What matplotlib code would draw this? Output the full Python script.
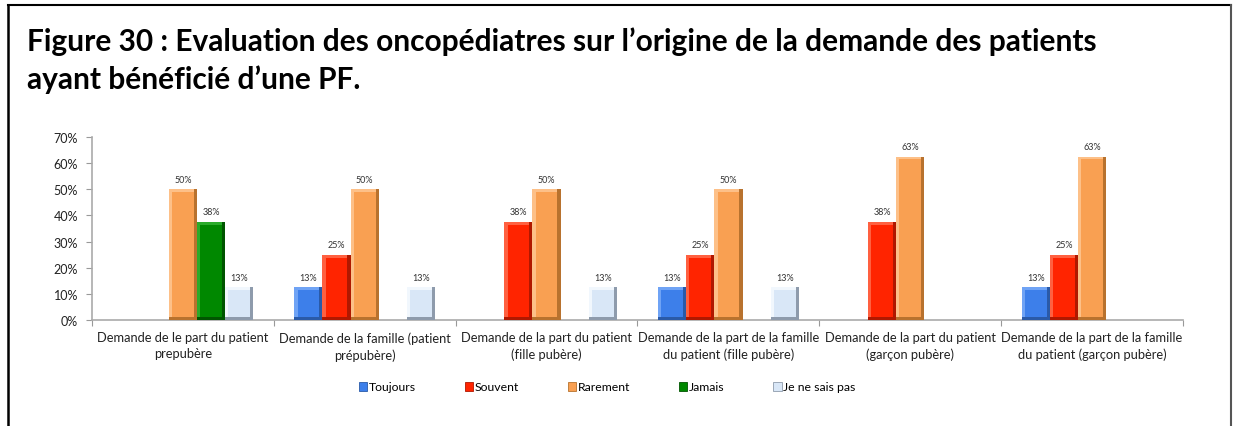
import matplotlib.pyplot as plt
from matplotlib.patches import Patch
from matplotlib.lines import Line2D
import numpy as np

categories = ["Demande de le part du patient\nprepubère",
              "Demande de la famille (patient\nprépubère)",
              "Demande de la part du patient\n(fille pubère)",
              "Demande de la part de la famille\ndu patient (fille pubère)",
              "Demande de la part du patient\n(garçon pubère)",
              "Demande de la part de la famille\ndu patient (garçon pubère)"]
series_names = ["Toujours", "Souvent", "Rarement", "Jamais", "Je ne sais pas"]
toujours = [0, 12.5, 0, 12.5, 0, 12.5]
souvent = [0, 25, 37.5, 25, 37.5, 25]
rarement = [50, 50, 50, 50, 62.5, 62.5]
jamais = [37.5, 0, 0, 0, 0, 0]
je_ne_sais_pas = [12.5, 12.5, 12.5, 12.5, 0, 0]
yticks = [0, 10, 20, 30, 40, 50, 60, 70]

# (main, light, dark) for the bevelled look
colors = [("#3d7fea", "#6fa3f5", "#2a5aa8"),
          ("#ff2400", "#ff6040", "#b01800"),
          ("#f9a052", "#fdc088", "#b8722e"),
          ("#008800", "#2aab2a", "#005500"),
          ("#d9e7f7", "#f1f7fd", "#8e9bac")]

fig = plt.figure(figsize=(12.33, 4.27), dpi=100)
plt.rcParams['font.family'] = ['Lato', 'DejaVu Sans']

ax = fig.add_axes([92/1233, 1-321/427, (1183-92)/1233, (321-138)/427])

x = np.arange(len(categories))
w = 0.155
bx = 0.018
by = 1.1
data = [toujours, souvent, rarement, jamais, je_ne_sais_pas]
for i, vals in enumerate(data):
    main, light, dark = colors[i]
    xs = x + (i - 2) * w
    v = np.array(vals, dtype=float)
    m = v > 0
    xs, v = xs[m], v[m]
    ax.bar(xs, v, w, color=dark, zorder=2)
    ax.bar(xs - bx/2, v, w - bx, color=light, zorder=3)
    ax.bar(xs, [by]*len(v), w, color=dark, zorder=3)
    ax.bar(xs, v - 2*by, w - 2*bx, bottom=by, color=main, zorder=4)
    for xx, vv in zip(xs, v):
        ax.text(xx, vv + 2.2, "%d%%" % int(vv + 0.5), ha='center', va='bottom',
                fontsize=6.5, color='#333333')

ax.set_xlim(-0.5, len(categories) - 0.5)
ax.set_ylim(0, 70)
ax.set_yticks(yticks)
ax.set_yticklabels(["%d%%" % t for t in yticks], fontsize=9, color='#222222')
ax.set_xticks(np.arange(len(categories) + 1) - 0.5, minor=False)
ax.set_xticklabels([])
ax.tick_params(axis='x', length=4, color='#999999', direction='out')
ax.tick_params(axis='y', length=4, color='#999999', direction='out', pad=6)
for xx, lab in zip(x, categories):
    ax.text(xx, -4.3, lab, ha='center', va='top', fontsize=9.3, color='#222222',
            linespacing=1.4)
for s in ['top', 'right']:
    ax.spines[s].set_visible(False)
for s in ['left', 'bottom']:
    ax.spines[s].set_color('#aaaaaa')
    ax.spines[s].set_linewidth(1.2)

handles = [Patch(facecolor=c[0], edgecolor=c[2], linewidth=0.6) for c in colors]
fig.legend(handles, series_names, loc='center', bbox_to_anchor=(607/1233, 1-388/427),
           ncol=5, frameon=False, fontsize=8.8, handlelength=0.7, handleheight=0.7,
           handletextpad=0.1, columnspacing=4.0)

fig.text(27/1233, 1-51/427, "Figure 30 : Evaluation des oncopédiatres sur l’origine de la demande des patients",
         fontsize=21.5, fontweight='bold', ha='left', va='baseline')
fig.text(27/1233, 1-89/427, "ayant bénéficié d’une PF.",
         fontsize=21.5, fontweight='bold', ha='left', va='baseline')

fig.add_artist(Line2D([8/1233, 8/1233], [0, 1-6/427], color='black', lw=1.8))
fig.add_artist(Line2D([8/1233, 1231/1233], [1-6/427, 1-6/427], color='black', lw=1.5))
fig.add_artist(Line2D([1231/1233, 1231/1233], [0, 1-6/427], color='#555555', lw=1.5))

fig.savefig("out.png", dpi=100)
